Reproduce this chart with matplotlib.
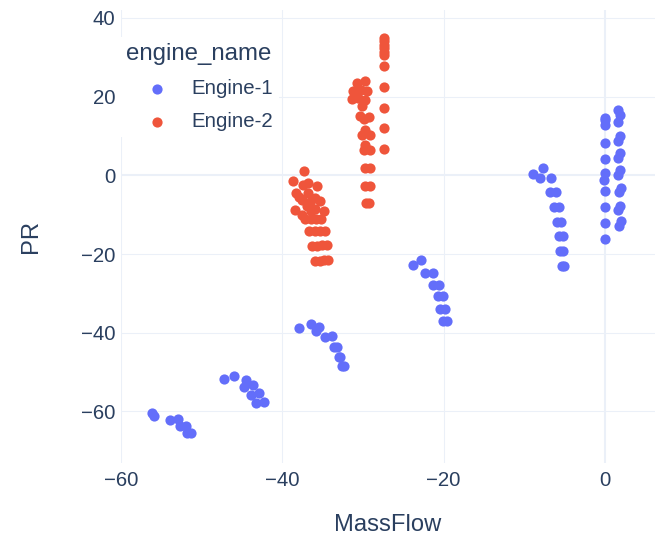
import matplotlib
matplotlib.use("Agg")
import matplotlib.pyplot as plt

# ---- data ----
engine1_massflow = [
    -56.2, -56.0, -54.0, -53.0, -52.7, -52.0, -51.9, -51.4,
    -47.3, -46.0, -44.5, -44.8, -43.7, -43.9, -42.9, -43.3, -42.3,
    -38.0, -36.5, -35.8, -35.5, -34.7, -33.9, -33.6, -33.2, -33.0, -32.8, -32.6, -32.3,
    -23.8, -22.8, -22.3, -21.3, -21.3, -20.5, -20.7, -20.1, -20.4, -19.8, -20.1, -19.6,
    -8.9, -7.7, -8.0, -6.7, -6.8, -6.0, -6.3, -5.7, -5.9, -5.4, -5.6, -5.2, -5.5, -5.2, -5.3, -5.0,
    0.0, 0.0, 0.0, 0.0, 0.0, -0.1, 0.1, 0.1, 0.1, 0.1, 0.1,
    1.7, 1.9, 1.7, 1.9, 1.7, 1.9, 1.7, 1.9, 1.7, 2.0, 1.8, 1.9, 1.7, 2.0, 1.8,
]
engine1_pr = [
    -60.4, -61.2, -62.1, -61.9, -63.8, -63.6, -65.5, -65.5,
    -51.7, -51.1, -52.1, -53.8, -53.4, -55.7, -55.3, -57.8, -57.5,
    -38.8, -37.9, -39.6, -38.5, -41.1, -40.9, -43.5, -43.5, -46.1, -46.1, -48.5, -48.5,
    -22.9, -21.6, -24.8, -24.7, -27.8, -27.8, -30.7, -30.7, -34.0, -34.0, -36.9, -36.9,
    0.4, 1.9, -0.8, -0.7, -4.3, -4.3, -8.1, -8.1, -11.9, -11.9, -15.5, -15.5, -19.3, -19.3, -23.0, -23.0,
    14.6, 12.9, 8.2, 4.2, 0.5, -1.3, -4.1, -8.1, -12.1, -16.2, 14.0,
    16.7, 15.4, 13.5, 9.9, 8.6, 5.7, 4.4, 1.3, 0.0, -3.2, -4.3, -7.7, -8.7, -11.7, -12.8,
]

engine2_massflow = [
    -37.3, -38.7, -37.4, -36.8, -35.7, -38.3, -36.8, -37.9, -37.6, -35.9, -35.3, -36.6,
    -38.4, -37.0, -37.6, -36.4, -34.9, -36.0, -37.2, -36.5, -35.8, -35.2,
    -36.7, -36.0, -35.4, -34.7, -36.3, -35.7, -35.1, -34.5, -36.0, -35.4, -34.8, -34.3,
    -30.7, -29.7, -31.3, -30.3, -29.5, -31.4, -30.6, -29.7, -30.1, -30.4, -29.3, -29.9,
    -29.7, -30.1, -29.1, -29.7, -29.9, -29.1, -29.7, -29.1, -29.7, -29.1, -29.6, -29.2,
    -27.4, -27.4, -27.4, -27.4, -27.4, -27.4, -27.4, -27.4, -27.4, -27.4, -27.4,
]
engine2_pr = [
    1.0, -1.5, -2.4, -2.0, -2.8, -4.5, -4.5, -5.5, -6.2, -5.7, -6.6, -6.8,
    -8.7, -7.9, -10.0, -9.1, -9.1, -8.5, -11.0, -11.1, -11.0, -11.1,
    -14.2, -14.2, -14.2, -14.1, -17.9, -17.9, -17.8, -17.8, -21.8, -21.7, -21.6, -21.6,
    23.5, 23.9, 21.4, 21.8, 21.4, 19.4, 19.7, 19.2, 17.5, 15.0, 14.8, 14.2,
    11.6, 10.3, 10.3, 7.8, 6.5, 6.4, 1.9, 1.9, -2.6, -2.6, -7.0, -7.0,
    34.9, 34.0, 33.2, 32.4, 31.4, 30.5, 27.7, 22.5, 17.1, 12.0, 6.7,
]

series_names = ["Engine-1", "Engine-2"]
series_colors = ["#636EFA", "#EF553B"]
x_ticks = [-60, -40, -20, 0]
y_ticks = [-60, -40, -20, 0, 20, 40]

TEXT = "#2a3f5f"
GRID = "#EBF0F8"
plt.rcParams["font.family"] = ["Liberation Sans", "DejaVu Sans"]

W, H = 659, 537
fig = plt.figure(figsize=(W / 100, H / 100), dpi=100)
L, R, T, B = 121, 654.5, 10, 463
ax = fig.add_axes([L / W, (H - B) / H, (R - L) / W, (B - T) / H])

for name, xs, ys, c in zip(series_names,
                           [engine1_massflow, engine2_massflow],
                           [engine1_pr, engine2_pr], series_colors):
    ax.scatter(xs, ys, s=54, color=c, linewidths=0, label=name, zorder=3)

ax.set_xlim(-60.05, 6.2)
ax.set_ylim(-73.1, 42.0)
ax.set_xticks(x_ticks)
ax.set_yticks(y_ticks)
ax.set_xticklabels([f"{v}".replace("-", "\u2212") for v in x_ticks])
ax.set_yticklabels([f"{v}".replace("-", "\u2212") for v in y_ticks])

for s in ax.spines.values():
    s.set_visible(False)
ax.tick_params(length=0, labelsize=14.7, labelcolor=TEXT)
ax.tick_params(axis="x", pad=5.5)
ax.tick_params(axis="y", pad=4.0)

for v in x_ticks:
    ax.axvline(v, color=GRID, lw=1.45 if v == 0 else 0.75, zorder=1)
for v in y_ticks:
    ax.axhline(v, color=GRID, lw=1.45 if v == 0 else 0.75, zorder=1)

ax.set_xlabel("MassFlow", fontsize=17.1, color=TEXT)
ax.set_ylabel("PR", fontsize=17.1, color=TEXT)
ax.xaxis.label.set_va("center")
ax.yaxis.label.set_va("center")
ax.xaxis.set_label_coords(0.5, (B - 525) / (B - T))
ax.yaxis.set_label_coords((31 - L) / (R - L), 0.5)

leg = ax.legend(loc="upper left",
                bbox_to_anchor=((L - 1) / W, (H - 37) / H),
                bbox_transform=fig.transFigure,
                title="engine_name", title_fontsize=17.3, fontsize=14.7,
                frameon=True, facecolor="white", edgecolor="none", framealpha=1,
                borderpad=0.3, borderaxespad=0, handlelength=3.0,
                handletextpad=0.2, labelspacing=0.68, scatterpoints=1,
                alignment="left", fancybox=False)
for t in leg.get_texts():
    t.set_color(TEXT)
leg.get_title().set_color(TEXT)
leg.set_zorder(5)

fig.savefig("out.png", dpi=100, facecolor="white")
